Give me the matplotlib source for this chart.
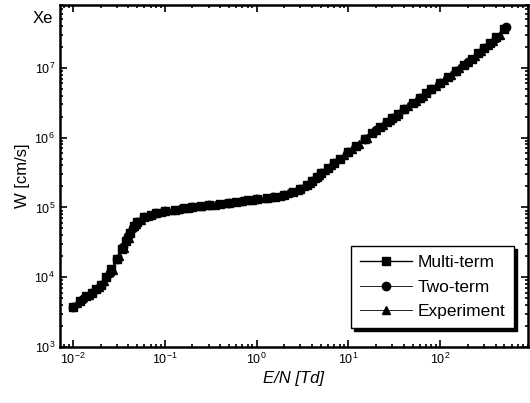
import matplotlib
matplotlib.use("Agg")
from matplotlib import pyplot as plt
from matplotlib.ticker import LogLocator, NullFormatter

plt.rcParams['font.family'] = ['Liberation Sans', 'DejaVu Sans']
plt.rcParams['mathtext.fontset'] = 'custom'
plt.rcParams['mathtext.rm'] = 'Liberation Sans'

# E/N [Td] and drift velocity W [cm/s]
en_multi = [0.01, 0.012, 0.014, 0.016, 0.018, 0.02, 0.023, 0.026, 0.03, 0.034,
            0.038, 0.042, 0.046, 0.05, 0.06, 0.07, 0.08, 0.1, 0.13, 0.16, 0.2,
            0.25, 0.3, 0.4, 0.5, 0.6, 0.8, 1.0, 1.3, 1.6, 2.0, 2.5, 3.0, 3.5,
            4.0, 4.5, 5.0, 6, 7, 8, 10, 12, 15, 18, 22, 26, 30, 35, 40, 50, 60,
            70, 80, 100, 120, 150, 180, 220, 260, 300, 350, 400, 500]
w_multi = [3.8e3, 4.6e3, 5.3e3, 6.0e3, 6.8e3, 7.8e3, 1.0e4, 1.3e4, 1.8e4, 2.5e4,
           3.3e4, 4.3e4, 5.4e4, 6.2e4, 7.2e4, 7.8e4, 8.2e4, 8.8e4, 9.3e4, 9.7e4,
           1.0e5, 1.04e5, 1.07e5, 1.12e5, 1.16e5, 1.2e5, 1.26e5, 1.3e5, 1.37e5,
           1.43e5, 1.52e5, 1.65e5, 1.85e5, 2.1e5, 2.4e5, 2.75e5, 3.1e5, 3.7e5,
           4.3e5, 4.9e5, 6.2e5, 7.5e5, 9.5e5, 1.15e6, 1.4e6, 1.65e6, 1.9e6,
           2.2e6, 2.55e6, 3.1e6, 3.7e6, 4.3e6, 4.9e6, 6.1e6, 7.3e6, 9.0e6,
           1.1e7, 1.35e7, 1.62e7, 1.9e7, 2.3e7, 2.75e7, 3.6e7]

en_two = [0.01, 0.013, 0.016, 0.02, 0.025, 0.03, 0.035, 0.04, 0.045, 0.05, 0.06,
          0.08, 0.1, 0.15, 0.2, 0.3, 0.5, 0.7, 1.0, 1.5, 2.0, 3.0, 4.0, 5.0, 7,
          10, 15, 20, 30, 40, 60, 80, 100, 150, 200, 300, 400, 520]
w_two = [3.8e3, 4.9e3, 6.0e3, 7.8e3, 1.15e4, 1.8e4, 2.7e4, 3.9e4, 5.0e4, 6.2e4,
         7.2e4, 8.2e4, 8.8e4, 9.6e4, 1.0e5, 1.07e5, 1.16e5, 1.23e5, 1.3e5,
         1.42e5, 1.52e5, 1.85e5, 2.4e5, 3.1e5, 4.3e5, 6.2e5, 9.5e5, 1.28e6,
         1.9e6, 2.55e6, 3.7e6, 4.9e6, 6.1e6, 9.0e6, 1.22e7, 1.9e7, 2.65e7, 3.8e7]

en_exp = [0.011, 0.015, 0.019, 0.022, 0.027, 0.032, 0.036, 0.041, 0.048, 0.055,
          0.065, 0.09, 0.12, 0.18, 0.25, 0.35, 0.45, 0.7, 0.9, 1.2, 1.8, 2.2,
          2.8, 3.3, 3.8, 4.3, 4.8, 5.5, 6.5, 9, 11, 13, 16, 20, 24, 28, 33, 45,
          55, 65, 90, 110, 130, 160, 200, 240, 280, 330, 380, 450]
w_exp = [4.2e3, 5.6e3, 7.2e3, 8.8e3, 1.25e4, 2.0e4, 2.6e4, 3.7e4, 5.8e4, 6.7e4,
         7.5e4, 8.5e4, 9.2e4, 9.8e4, 1.04e5, 1.1e5, 1.14e5, 1.23e5, 1.28e5,
         1.35e5, 1.48e5, 1.6e5, 1.78e5, 2.0e5, 2.25e5, 2.6e5, 2.95e5, 3.4e5,
         4.0e5, 5.6e5, 6.9e5, 8.2e5, 1.0e6, 1.28e6, 1.52e6, 1.78e6, 2.05e6,
         2.85e6, 3.4e6, 4.0e6, 5.5e6, 6.7e6, 8.0e6, 9.8e6, 1.22e7, 1.5e7,
         1.75e7, 2.1e7, 2.45e7, 3.0e7]

fig = plt.figure(figsize=(5.3, 4.03), dpi=100)
ax = fig.add_axes([0.113, 0.139, 0.883, 0.849])

ax.plot(en_multi, w_multi, '-', color='k', lw=1.0, marker='s', ms=5.5,
        label='Multi-term')
ax.plot(en_two, w_two, '-', color='k', lw=0.6, marker='o', ms=6,
        label='Two-term')
ax.plot(en_exp, w_exp, '-', color='k', lw=0.6, marker='^', ms=6,
        label='Experiment')

ax.set_xscale('log')
ax.set_yscale('log')
ax.set_xlim(0.0072, 900)
ax.set_ylim(1e3, 8e7)

for sp in ax.spines.values():
    sp.set_linewidth(1.8)

ax.xaxis.set_major_locator(LogLocator(base=10, numticks=10))
ax.yaxis.set_major_locator(LogLocator(base=10, numticks=10))
ax.xaxis.set_minor_locator(LogLocator(base=10, subs=range(2, 10), numticks=20))
ax.yaxis.set_minor_locator(LogLocator(base=10, subs=range(2, 10), numticks=20))
ax.xaxis.set_minor_formatter(NullFormatter())
ax.yaxis.set_minor_formatter(NullFormatter())
ax.tick_params(which='both', direction='in', top=True, right=True,
               labelsize=9, width=1.2)
ax.tick_params(which='major', length=5)
ax.tick_params(which='minor', length=2.5)

ax.set_xlabel('E/N [Td]', fontsize=12, style='italic', labelpad=3)
ax.set_ylabel('W [cm/s]', fontsize=12, labelpad=3)
fig.text(0.08, 0.955, 'Xe', fontsize=12, ha='center', va='center')

leg = ax.legend(loc='lower right', bbox_to_anchor=(0.97, 0.055), fontsize=12.5,
                frameon=True, fancybox=False, edgecolor='k', framealpha=1,
                handlelength=3.0, handletextpad=0.3, labelspacing=0.55,
                borderpad=0.5, borderaxespad=0,
                shadow={'color': 'k', 'alpha': 1})
leg.get_frame().set_linewidth(1.0)

fig.savefig('out.png', dpi=100)
